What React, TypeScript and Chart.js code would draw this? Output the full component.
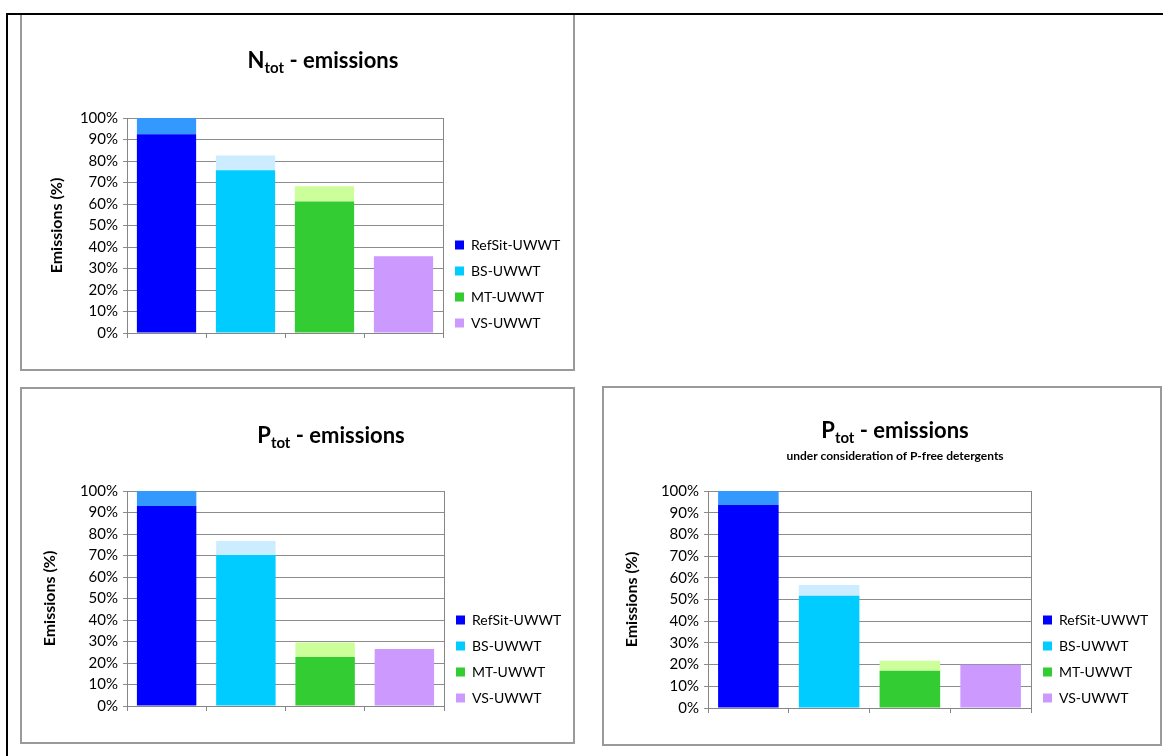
import React, { useEffect, useRef } from 'react';
import { Chart, registerables } from 'chart.js';

Chart.register(...registerables);

const FONT = 'Lato, "Open Sans", sans-serif';

// ---- data ----
const categories = ['', '', '', ''];
const seriesNames = ['RefSit-UWWT', 'BS-UWWT', 'MT-UWWT', 'VS-UWWT'];
const lowerColors = ['#0000FF', '#00CCFF', '#33CC33', '#CC99FF'];
const upperColors = ['#3399FF', '#CCECFF', '#CCFF99', '#CC99FF'];
const yMax = 100;
const yStep = 10;
const yAxisTitle = 'Emissions (%)';

// N_tot emissions: lower (dark) part and upper (light) increment per scenario
const nLower = [92.4, 75.7, 61.2, 35.7];
const nUpper = [7.6, 6.9, 7.0, 0];
// P_tot emissions
const pLower = [93.0, 70.2, 22.8, 26.5];
const pUpper = [7.0, 6.5, 6.7, 0];
// P_tot emissions with P-free detergents
const pFreeLower = [93.6, 51.7, 17.2, 19.9];
const pFreeUpper = [6.4, 5.0, 4.6, 0];

const titlePlugin = {
  id: 'subTitle',
  afterDraw(chart: any, _args: any, opts: any) {
    const ctx = chart.ctx;
    ctx.save();
    ctx.fillStyle = '#000';
    ctx.textBaseline = 'alphabetic';
    ctx.textAlign = 'left';
    const big = `bold ${opts.size}px ${FONT}`;
    const small = `bold ${opts.subSize}px ${FONT}`;
    ctx.font = big;
    const w1 = ctx.measureText(opts.head).width;
    const w3 = ctx.measureText(opts.tail).width;
    ctx.font = small;
    const w2 = ctx.measureText(opts.sub).width;
    let x = opts.cx - (w1 + w2 + w3) / 2;
    const base = opts.cy + opts.size * 0.36;
    ctx.font = big;
    ctx.fillText(opts.head, x, base);
    x += w1;
    ctx.font = small;
    ctx.fillText(opts.sub, x, base + opts.subShift);
    x += w2;
    ctx.font = big;
    ctx.fillText(opts.tail, x, base);
    if (opts.line2) {
      ctx.font = `bold ${opts.line2Size}px ${FONT}`;
      ctx.textAlign = 'center';
      ctx.textBaseline = 'middle';
      ctx.fillText(opts.line2, opts.cx, opts.cy2);
    }
    ctx.restore();
  },
};

type PanelProps = {
  left: number;
  top: number;
  width: number;
  height: number;
  lower: number[];
  upper: number[];
  head: string;
  sub: string;
  tail: string;
  line2?: string;
  titleX: number;
  titleY: number;
  line2Y?: number;
  padLeft: number;
  padTop: number;
  padBottom: number;
  padRight: number;
  yWidth: number;
  xHeight: number;
  legendWidth: number;
};

function ChartPanel(p: PanelProps) {
  const ref = useRef<HTMLCanvasElement | null>(null);
  const cw = p.width - 4;
  const ch = p.height - 4;

  useEffect(() => {
    if (!ref.current) return;
    const datasets: any[] = [];
    seriesNames.forEach((name, i) => {
      datasets.push({
        label: name,
        data: categories.map((_, j) => (j === i ? p.lower[i] : null)),
        backgroundColor: lowerColors[i],
        borderWidth: 0,
        stack: 's',
        barPercentage: 0.75,
        categoryPercentage: 1,
      });
    });
    seriesNames.forEach((name, i) => {
      datasets.push({
        label: name + ' (upper)',
        data: categories.map((_, j) => (j === i ? p.upper[i] : null)),
        backgroundColor: upperColors[i],
        borderWidth: 0,
        stack: 's',
        barPercentage: 0.75,
        categoryPercentage: 1,
      });
    });

    const chart = new Chart(ref.current, {
      type: 'bar',
      data: { labels: categories, datasets },
      plugins: [titlePlugin as any],
      options: {
        responsive: false,
        animation: false,
        devicePixelRatio: 1,
        layout: {
          padding: { left: p.padLeft, top: p.padTop, bottom: p.padBottom, right: p.padRight },
        },
        scales: {
          x: {
            stacked: true,
            offset: true,
            grid: {
              offset: true,
              drawOnChartArea: false,
              color: '#868686',
              tickLength: 5,
            },
            border: { color: '#868686', width: 1 },
            ticks: { display: false },
            afterFit: (s: any) => {
              s.height = p.xHeight;
            },
          },
          y: {
            stacked: true,
            min: 0,
            max: yMax,
            ticks: {
              stepSize: yStep,
              callback: (v: any) => v + '%',
              color: '#000',
              font: { family: FONT, size: 15 },
              padding: 5,
            },
            grid: { color: '#8c8c8c', tickLength: 4 },
            border: { color: '#868686' },
            title: {
              display: true,
              text: yAxisTitle,
              color: '#000',
              font: { family: FONT, size: 16, weight: 'bold' },
              padding: { top: 4, bottom: 0 },
            },
            afterFit: (s: any) => {
              s.width = p.yWidth;
            },
          },
          y2: {
            position: 'right',
            display: true,
            ticks: { display: false },
            grid: { display: false, drawTicks: false },
            border: { display: true, color: '#868686' },
            afterFit: (s: any) => {
              s.width = 0;
            },
          },
        },
        plugins: {
          title: { display: false },
          tooltip: { enabled: false },
          legend: {
            display: true,
            position: 'right',
            align: 'end',
            maxWidth: p.legendWidth,
            labels: {
              boxWidth: 9,
              boxHeight: 9,
              padding: 12,
              color: '#000',
              font: { family: FONT, size: 14 },
              filter: (item: any) => item.datasetIndex < seriesNames.length,
            },
          },
          subTitle: {
            head: p.head,
            sub: p.sub,
            tail: p.tail,
            size: 22,
            subSize: 15,
            subShift: 5,
            cx: p.titleX,
            cy: p.titleY,
            line2: p.line2,
            line2Size: 12,
            cy2: p.line2Y,
          },
        } as any,
      },
    });
    return () => chart.destroy();
  }, []);

  return (
    <div
      style={{
        position: 'absolute',
        left: p.left,
        top: p.top,
        width: p.width,
        height: p.height,
        boxSizing: 'border-box',
        border: '2px solid #9a9a9a',
        background: '#fff',
      }}
    >
      <canvas ref={ref} width={cw} height={ch} style={{ display: 'block', width: cw, height: ch }} />
    </div>
  );
}

export default function App() {
  return (
    <div style={{ position: 'absolute', left: 0, top: 0, width: 1163, height: 756, background: '#fff', overflow: 'hidden' }}>
      <ChartPanel
        left={20} top={13} width={555} height={358}
        lower={nLower} upper={nUpper}
        head="N" sub="tot" tail=" - emissions"
        titleX={301} titleY={45}
        padLeft={21} padTop={103} padBottom={27} padRight={8}
        yWidth={84} xHeight={9} legendWidth={122}
      />
      <ChartPanel
        left={20} top={387} width={555} height={357}
        lower={pLower} upper={pUpper}
        head="P" sub="tot" tail=" - emissions"
        titleX={309} titleY={46}
        padLeft={14} padTop={102} padBottom={25} padRight={7}
        yWidth={91} xHeight={11} legendWidth={122}
      />
      <ChartPanel
        left={602} top={386} width={560} height={360}
        lower={pFreeLower} upper={pFreeUpper}
        head="P" sub="tot" tail=" - emissions"
        line2="under consideration of P-free detergents"
        titleX={291} titleY={42} line2Y={68}
        padLeft={14} padTop={103} padBottom={27} padRight={7}
        yWidth={90} xHeight={9} legendWidth={122}
      />
      <div style={{ position: 'absolute', left: 6, top: 13, width: 2, height: 743, background: '#000' }} />
      <div style={{ position: 'absolute', left: 6, top: 13, width: 1157, height: 2, background: '#000' }} />
    </div>
  );
}
